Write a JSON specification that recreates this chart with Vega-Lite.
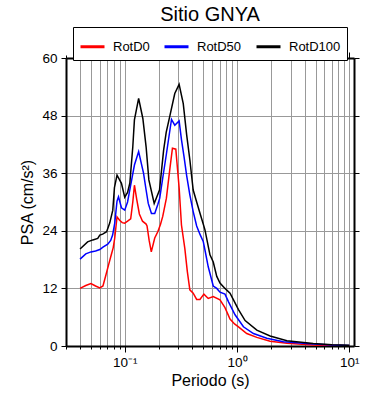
{
  "$schema": "https://vega.github.io/schema/vega-lite/v6.json",
  "width": 288,
  "height": 288,
  "autosize": "none",
  "padding": {"left": 66, "top": 58, "right": 36, "bottom": 54},
  "background": "white",
  "config": {"view": {"stroke": null}, "font": "Liberation Sans"},
  "title": {"text": "Sitio GNYA", "fontSize": 20, "font": "Liberation Sans", "fontWeight": "normal", "color": "black", "anchor": "middle", "offset": 2},
  "data": {"values": [
    {"T":0.04,"PSA":12.0,"s":"RotD0"},{"T":0.045,"PSA":12.6,"s":"RotD0"},{"T":0.05,"PSA":13.0,"s":"RotD0"},{"T":0.055,"PSA":12.5,"s":"RotD0"},{"T":0.06,"PSA":12.1,"s":"RotD0"},{"T":0.064,"PSA":12.5,"s":"RotD0"},{"T":0.068,"PSA":14.8,"s":"RotD0"},{"T":0.072,"PSA":17.0,"s":"RotD0"},{"T":0.0755,"PSA":18.8,"s":"RotD0"},{"T":0.079,"PSA":20.5,"s":"RotD0"},{"T":0.0815,"PSA":22.5,"s":"RotD0"},{"T":0.0854,"PSA":26.9,"s":"RotD0"},{"T":0.09,"PSA":26.2,"s":"RotD0"},{"T":0.095,"PSA":25.7,"s":"RotD0"},{"T":0.1,"PSA":25.6,"s":"RotD0"},{"T":0.106,"PSA":26.0,"s":"RotD0"},{"T":0.113,"PSA":26.5,"s":"RotD0"},{"T":0.118,"PSA":30.0,"s":"RotD0"},{"T":0.122,"PSA":33.5,"s":"RotD0"},{"T":0.128,"PSA":30.5,"s":"RotD0"},{"T":0.135,"PSA":27.5,"s":"RotD0"},{"T":0.144,"PSA":26.0,"s":"RotD0"},{"T":0.155,"PSA":25.4,"s":"RotD0"},{"T":0.158,"PSA":25.0,"s":"RotD0"},{"T":0.165,"PSA":22.0,"s":"RotD0"},{"T":0.1724,"PSA":19.6,"s":"RotD0"},{"T":0.185,"PSA":22.5,"s":"RotD0"},{"T":0.197,"PSA":23.8,"s":"RotD0"},{"T":0.208,"PSA":25.3,"s":"RotD0"},{"T":0.218,"PSA":27.0,"s":"RotD0"},{"T":0.235,"PSA":30.8,"s":"RotD0"},{"T":0.2526,"PSA":37.0,"s":"RotD0"},{"T":0.266,"PSA":41.2,"s":"RotD0"},{"T":0.285,"PSA":41.0,"s":"RotD0"},{"T":0.305,"PSA":33.0,"s":"RotD0"},{"T":0.32,"PSA":25.2,"s":"RotD0"},{"T":0.343,"PSA":20.3,"s":"RotD0"},{"T":0.361,"PSA":15.5,"s":"RotD0"},{"T":0.38,"PSA":11.7,"s":"RotD0"},{"T":0.407,"PSA":11.0,"s":"RotD0"},{"T":0.437,"PSA":9.7,"s":"RotD0"},{"T":0.467,"PSA":9.7,"s":"RotD0"},{"T":0.507,"PSA":10.8,"s":"RotD0"},{"T":0.554,"PSA":9.9,"s":"RotD0"},{"T":0.614,"PSA":10.3,"s":"RotD0"},{"T":0.705,"PSA":9.6,"s":"RotD0"},{"T":0.781,"PSA":8.0,"s":"RotD0"},{"T":0.866,"PSA":5.6,"s":"RotD0"},{"T":0.95,"PSA":4.6,"s":"RotD0"},{"T":1.03,"PSA":4.0,"s":"RotD0"},{"T":1.22,"PSA":2.6,"s":"RotD0"},{"T":1.5,"PSA":1.8,"s":"RotD0"},{"T":1.97,"PSA":1.0,"s":"RotD0"},{"T":2.78,"PSA":0.55,"s":"RotD0"},{"T":4.77,"PSA":0.2,"s":"RotD0"},{"T":7.0,"PSA":0.1,"s":"RotD0"},{"T":10,"PSA":0.05,"s":"RotD0"},
    {"T":0.04,"PSA":18.1,"s":"RotD50"},{"T":0.045,"PSA":19.2,"s":"RotD50"},{"T":0.05,"PSA":19.6,"s":"RotD50"},{"T":0.055,"PSA":19.8,"s":"RotD50"},{"T":0.06,"PSA":20.1,"s":"RotD50"},{"T":0.064,"PSA":20.6,"s":"RotD50"},{"T":0.0706,"PSA":21.2,"s":"RotD50"},{"T":0.075,"PSA":22.0,"s":"RotD50"},{"T":0.078,"PSA":23.1,"s":"RotD50"},{"T":0.0815,"PSA":25.6,"s":"RotD50"},{"T":0.0854,"PSA":30.2,"s":"RotD50"},{"T":0.088,"PSA":31.1,"s":"RotD50"},{"T":0.0935,"PSA":28.8,"s":"RotD50"},{"T":0.1,"PSA":28.3,"s":"RotD50"},{"T":0.106,"PSA":30.0,"s":"RotD50"},{"T":0.113,"PSA":33.5,"s":"RotD50"},{"T":0.122,"PSA":37.7,"s":"RotD50"},{"T":0.133,"PSA":40.5,"s":"RotD50"},{"T":0.147,"PSA":36.0,"s":"RotD50"},{"T":0.155,"PSA":32.5,"s":"RotD50"},{"T":0.162,"PSA":29.7,"s":"RotD50"},{"T":0.173,"PSA":27.6,"s":"RotD50"},{"T":0.185,"PSA":27.6,"s":"RotD50"},{"T":0.197,"PSA":29.5,"s":"RotD50"},{"T":0.205,"PSA":30.8,"s":"RotD50"},{"T":0.218,"PSA":35.0,"s":"RotD50"},{"T":0.235,"PSA":40.0,"s":"RotD50"},{"T":0.2526,"PSA":45.0,"s":"RotD50"},{"T":0.261,"PSA":47.2,"s":"RotD50"},{"T":0.279,"PSA":46.0,"s":"RotD50"},{"T":0.305,"PSA":46.9,"s":"RotD50"},{"T":0.32,"PSA":43.0,"s":"RotD50"},{"T":0.337,"PSA":39.5,"s":"RotD50"},{"T":0.356,"PSA":35.5,"s":"RotD50"},{"T":0.38,"PSA":31.5,"s":"RotD50"},{"T":0.407,"PSA":28.0,"s":"RotD50"},{"T":0.437,"PSA":25.0,"s":"RotD50"},{"T":0.467,"PSA":23.3,"s":"RotD50"},{"T":0.5,"PSA":21.8,"s":"RotD50"},{"T":0.518,"PSA":20.0,"s":"RotD50"},{"T":0.554,"PSA":16.5,"s":"RotD50"},{"T":0.614,"PSA":12.5,"s":"RotD50"},{"T":0.66,"PSA":12.0,"s":"RotD50"},{"T":0.705,"PSA":11.2,"s":"RotD50"},{"T":0.781,"PSA":10.8,"s":"RotD50"},{"T":0.84,"PSA":9.2,"s":"RotD50"},{"T":0.96,"PSA":6.5,"s":"RotD50"},{"T":1.14,"PSA":4.0,"s":"RotD50"},{"T":1.4,"PSA":2.6,"s":"RotD50"},{"T":1.84,"PSA":1.6,"s":"RotD50"},{"T":2.59,"PSA":0.9,"s":"RotD50"},{"T":4.77,"PSA":0.4,"s":"RotD50"},{"T":7.0,"PSA":0.2,"s":"RotD50"},{"T":10,"PSA":0.1,"s":"RotD50"},
    {"T":0.04,"PSA":20.2,"s":"RotD100"},{"T":0.0467,"PSA":21.7,"s":"RotD100"},{"T":0.052,"PSA":22.1,"s":"RotD100"},{"T":0.0575,"PSA":22.4,"s":"RotD100"},{"T":0.06,"PSA":23.1,"s":"RotD100"},{"T":0.0636,"PSA":23.3,"s":"RotD100"},{"T":0.069,"PSA":23.8,"s":"RotD100"},{"T":0.0735,"PSA":25.6,"s":"RotD100"},{"T":0.0783,"PSA":28.3,"s":"RotD100"},{"T":0.081,"PSA":33.0,"s":"RotD100"},{"T":0.0854,"PSA":35.6,"s":"RotD100"},{"T":0.0935,"PSA":33.9,"s":"RotD100"},{"T":0.1,"PSA":31.0,"s":"RotD100"},{"T":0.106,"PSA":32.0,"s":"RotD100"},{"T":0.111,"PSA":33.9,"s":"RotD100"},{"T":0.118,"PSA":41.5,"s":"RotD100"},{"T":0.122,"PSA":47.1,"s":"RotD100"},{"T":0.133,"PSA":51.6,"s":"RotD100"},{"T":0.145,"PSA":47.4,"s":"RotD100"},{"T":0.155,"PSA":41.5,"s":"RotD100"},{"T":0.164,"PSA":34.6,"s":"RotD100"},{"T":0.183,"PSA":29.7,"s":"RotD100"},{"T":0.204,"PSA":32.5,"s":"RotD100"},{"T":0.222,"PSA":40.8,"s":"RotD100"},{"T":0.234,"PSA":44.5,"s":"RotD100"},{"T":0.2526,"PSA":48.0,"s":"RotD100"},{"T":0.279,"PSA":52.6,"s":"RotD100"},{"T":0.305,"PSA":54.5,"s":"RotD100"},{"T":0.332,"PSA":50.5,"s":"RotD100"},{"T":0.356,"PSA":44.0,"s":"RotD100"},{"T":0.38,"PSA":38.8,"s":"RotD100"},{"T":0.407,"PSA":32.5,"s":"RotD100"},{"T":0.437,"PSA":30.0,"s":"RotD100"},{"T":0.47,"PSA":27.5,"s":"RotD100"},{"T":0.5,"PSA":25.4,"s":"RotD100"},{"T":0.518,"PSA":24.2,"s":"RotD100"},{"T":0.574,"PSA":19.0,"s":"RotD100"},{"T":0.614,"PSA":17.5,"s":"RotD100"},{"T":0.66,"PSA":14.5,"s":"RotD100"},{"T":0.705,"PSA":13.1,"s":"RotD100"},{"T":0.781,"PSA":12.0,"s":"RotD100"},{"T":0.866,"PSA":11.0,"s":"RotD100"},{"T":0.92,"PSA":9.8,"s":"RotD100"},{"T":1.03,"PSA":7.6,"s":"RotD100"},{"T":1.18,"PSA":5.3,"s":"RotD100"},{"T":1.5,"PSA":3.3,"s":"RotD100"},{"T":1.97,"PSA":2.1,"s":"RotD100"},{"T":2.78,"PSA":1.1,"s":"RotD100"},{"T":4.77,"PSA":0.5,"s":"RotD100"},{"T":7.0,"PSA":0.25,"s":"RotD100"},{"T":10,"PSA":0.15,"s":"RotD100"}
  ]},
  "layer": [
    {
      "mark": {"type": "line", "strokeWidth": 1.5, "clip": true},
      "encoding": {
        "x": {"field": "T", "type": "quantitative",
          "scale": {"type": "log", "domain": [0.03, 11], "nice": false},
          "axis": {"orient": "bottom", "values": [0.03,0.04,0.05,0.06,0.07,0.08,0.09,0.1,0.2,0.3,0.4,0.5,0.6,0.7,0.8,0.9,1,2,3,4,5,6,7,8,9,10],
            "labelExpr": "datum.value == 0.1 ? '10⁻¹' : datum.value == 1 ? '10⁰' : datum.value == 10 ? '10¹' : ''",
            "labelOverlap": false, "labelBound": false, "labelFlush": false,
            "grid": true, "gridColor": "#999999", "gridWidth": 1, "gridOpacity": 1,
            "domainColor": "black", "domainWidth": 2, "tickColor": "black", "tickWidth": 1,
            "tickSize": {"condition": {"test": "datum.value == 0.1 || datum.value == 1 || datum.value == 10", "value": 6}, "value": 3},
            "labelFontSize": 13.5, "labelFont": "Liberation Sans", "labelColor": "black", "labelPadding": 3,
            "title": "Periodo (s)", "titleFontSize": 16, "titleFontWeight": "normal", "titleFont": "Liberation Sans", "titleColor": "black", "titlePadding": 4}},
        "y": {"field": "PSA", "type": "quantitative",
          "scale": {"domain": [0, 60], "nice": false},
          "axis": {"orient": "left", "values": [0, 12, 24, 36, 48, 60],
            "grid": true, "gridColor": "#999999", "gridWidth": 1, "gridOpacity": 1,
            "domainColor": "black", "domainWidth": 2, "tickColor": "black", "tickWidth": 1, "tickSize": 5,
            "labelFontSize": 13.5, "labelFont": "Liberation Sans", "labelColor": "black", "labelPadding": 4,
            "title": "PSA (cm/s²)", "titleFontSize": 16, "titleFontWeight": "normal", "titleFont": "Liberation Sans", "titleColor": "black", "titlePadding": 6}},
        "color": {"field": "s", "type": "nominal",
          "scale": {"domain": ["RotD0", "RotD50", "RotD100"], "range": ["#ff0000", "#0000ff", "#000000"]},
          "legend": {"orient": "none", "legendX": 7, "legendY": -31, "direction": "horizontal", "title": null,
            "symbolType": "stroke", "symbolSize": 576, "symbolStrokeWidth": 3,
            "labelFontSize": 13, "labelFont": "Liberation Sans", "labelColor": "black", "labelOffset": 7,
            "strokeColor": "black", "fillColor": "white", "padding": 6, "columnPadding": 8}}
      }
    },
    {
      "mark": {"type": "line", "opacity": 0},
      "encoding": {
        "x": {"field": "T", "type": "quantitative",
          "axis": {"orient": "top", "values": [0.03,0.04,0.05,0.06,0.07,0.08,0.09,0.1,0.2,0.3,0.4,0.5,0.6,0.7,0.8,0.9,1,2,3,4,5,6,7,8,9,10],
            "labels": false, "grid": false, "title": null,
            "domainColor": "black", "domainWidth": 2, "tickColor": "black", "tickWidth": 1,
            "tickSize": {"condition": {"test": "datum.value == 0.1 || datum.value == 1 || datum.value == 10", "value": 6}, "value": 3}}},
        "y": {"field": "PSA", "type": "quantitative",
          "axis": {"orient": "right", "values": [0, 12, 24, 36, 48, 60], "labels": false, "grid": false, "title": null,
            "domainColor": "black", "domainWidth": 2, "tickColor": "black", "tickWidth": 1, "tickSize": 5}},
        "detail": {"field": "s"}
      }
    }
  ],
  "resolve": {"axis": {"x": "independent", "y": "independent"}}
}
